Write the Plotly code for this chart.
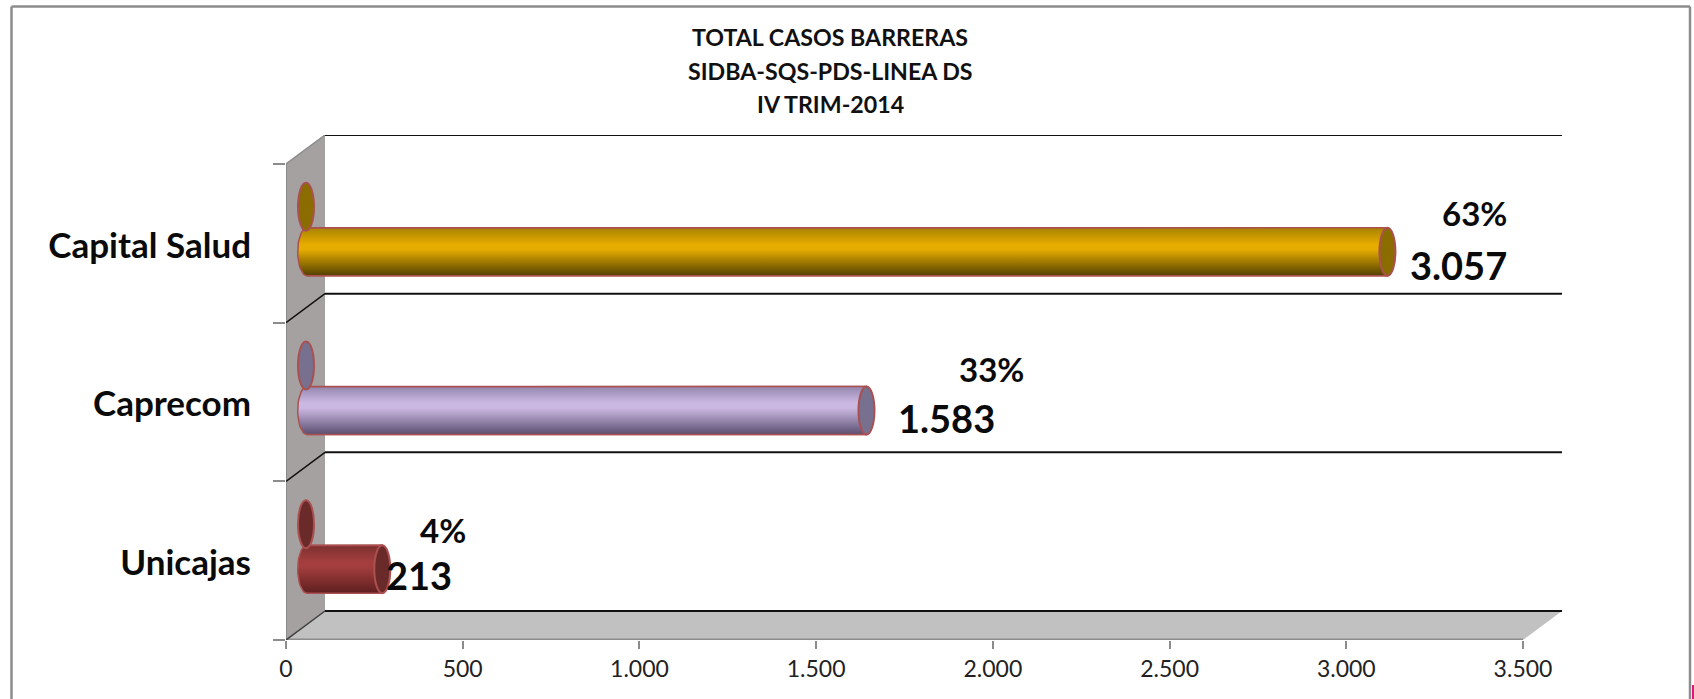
import numpy as np
import plotly.graph_objects as go

# --- data -------------------------------------------------------------
categories = ["Unicajas", "Caprecom", "Capital Salud"]
values = [213, 1583, 3057]
percents = ["4%", "33%", "63%"]
x_ticks = [0, 500, 1000, 1500, 2000, 2500, 3000, 3500]
title_lines = ["TOTAL CASOS BARRERAS", "SIDBA-SQS-PDS-LINEA DS", "IV TRIM-2014"]

# --- style ------------------------------------------------------------
W, H = 1694, 699
FONT = "Lato"
L, R, T, B = 286, 1565, 135, 640        # plot box in px
PX_X = (1523 - 286) / 3500              # px per x unit
PX_Y = (640 - 164) / 3                  # px per category
DX, DY = 39 / PX_X, 29 / PX_Y           # 3-D depth of the chart box
ZERO = 21 / PX_X                        # bars start inside the box depth
RX, RY = 8 / PX_X, 24 / PX_Y            # cylinder end radii
LEFT_RX = 9.3 / PX_X
GHOST_X = 20 / PX_X
BAR_SHIFT = -8.5 / PX_Y
GHOST_SHIFT = 36.5 / PX_Y
OUTLINE = "#ab5050"
ramps = [  # bottom, middle, top, end cap
    ("#5e1f1f", "#a43e3e", "#7c3030", "#6a2a2a"),
    ("#5a4e70", "#cbb8e2", "#9486ad", "#77708f"),
    ("#524000", "#e6ac00", "#a88200", "#8a6c00"),
]
label_shift = [  # value right edge, value y, percent right edge, percent y (px from value/category)
    (93, -14, 107, 31),
    (152, -16, 181, 33),
    (143, -22, 143, 30),
]

traces = []
shapes = []
annotations = []

x_max = 3500 * (R - L) / (1523 - 286)
y_min, y_max = -0.5, 2.5 + DY


def px(x):
    return (x - L) / (R - L)


def py(y):
    return 1 - (y - T) / (B - T)


def poly(pts):
    return "M" + "L".join(f"{x},{y}" for x, y in pts) + "Z"


def line(x0, y0, x1, y1, color, width):
    return dict(type="line", xref="x", yref="y", x0=x0, y0=y0, x1=x1, y1=y1,
                line=dict(color=color, width=width), layer="below")


# box: floor and left wall
shapes.append(dict(type="path", xref="x", yref="y", layer="below", line_width=0, fillcolor="#c1c1c1",
                   path=poly([(0, y_min), (3500, y_min), (3500 + DX, y_min + DY), (DX, y_min + DY)])))
shapes.append(dict(type="path", xref="x", yref="y", layer="below", line_width=0, fillcolor="#a5a1a1",
                   path=poly([(0, y_min), (0, 2.5), (DX, 2.5 + DY), (DX, y_min + DY)])))
shapes.append(line(0, y_min, 3500, y_min, "#8c8c8c", 3))
shapes.append(line(0, y_min, 0, 2.5, "#8c8c8c", 2))
shapes.append(line(0, 2.5, DX, 2.5 + DY, "#8c8c8c", 1.5))
shapes.append(line(0, y_min, DX, y_min + DY, "#404040", 1.5))
for b in [0.5, 1.5, 2.5, 3.5]:
    shapes.append(line(DX, b - 1 + DY, 3500 + DX, b - 1 + DY, "#111111", 2))
    if b < 2.5:
        shapes.append(line(0, b, DX, b + DY, "#111111", 1.5))

# bars
traces.append(go.Bar(y=list(range(len(values))), x=values, base=ZERO, orientation="h",
                     width=2 * RY, offset=BAR_SHIFT - RY,
                     marker=dict(color=[r[1] for r in ramps], line=dict(color=OUTLINE, width=1.5)),
                     showlegend=False, hoverinfo="x+y"))

for i, (v, ramp) in enumerate(zip(values, ramps)):
    yc = i + BAR_SHIFT
    t = np.linspace(np.pi / 2, 3 * np.pi / 2, 24)
    xs = [ZERO + v] + list(ZERO + LEFT_RX * np.cos(t)) + [ZERO + v, ZERO + v]
    ys = [yc + RY] + list(yc + RY * np.sin(t)) + [yc - RY, yc + RY]
    traces.append(go.Scatter(
        x=xs, y=ys, mode="lines", fill="toself", showlegend=False, hoverinfo="skip",
        line=dict(color=OUTLINE, width=1.5),
        fillgradient=dict(type="vertical", start=yc - RY, stop=yc + RY,
                          colorscale=[[0, ramp[0]], [0.55, ramp[1]], [0.66, ramp[1]], [1, ramp[2]]]),
    ))
    # end cap
    shapes.append(dict(type="circle", xref="x", yref="y", layer="above",
                       x0=ZERO + v - RX, x1=ZERO + v + RX, y0=yc - RY, y1=yc + RY,
                       fillcolor=ramp[3], line=dict(color=OUTLINE, width=2)))
    # ghost end on the wall
    gy = i + GHOST_SHIFT
    shapes.append(dict(type="circle", xref="x", yref="y", layer="above",
                       x0=GHOST_X - RX, x1=GHOST_X + RX, y0=gy - RY, y1=gy + RY,
                       fillcolor=ramp[3], line=dict(color=OUTLINE, width=2)))
    # labels
    vs, vy, ps, pys = label_shift[i]
    annotations.append(dict(x=v, y=i, xref="x", yref="y", xanchor="right", yanchor="middle", showarrow=False,
                            xshift=vs, yshift=vy, text=f"{v:,}".replace(",", "."),
                            font=dict(family=FONT, size=38, color="#0a0a0a", weight=700)))
    annotations.append(dict(x=v, y=i, xref="x", yref="y", xanchor="right", yanchor="middle", showarrow=False,
                            xshift=ps, yshift=pys, text=percents[i],
                            font=dict(family=FONT, size=33, color="#0a0a0a", weight=700)))

# figure border
for x0, y0, x1, y1 in [(11.5, 699, 11.5, 6.5), (11.5, 6.5, 1690, 6.5), (1690, 6.5, 1690, 699)]:
    shapes.append(dict(type="line", xref="paper", yref="paper", x0=px(x0), x1=px(x1),
                       y0=py(y0), y1=py(y1), line=dict(color="#8c8c8c", width=2.5)))
shapes.append(dict(type="rect", xref="paper", yref="paper", x0=px(1692), x1=px(W), y0=py(H), y1=py(685),
                   fillcolor="#d81b78", line_width=0))

for line_text, ly in zip(title_lines[1:], [71, 104]):
    annotations.append(dict(x=px(830), y=py(ly), xref="paper", yref="paper", xanchor="center",
                            yanchor="middle", showarrow=False, text=line_text,
                            font=dict(family=FONT, size=23.2, color="#111111", weight=700)))

fig = go.Figure(traces)
fig.update_layout(
    width=W, height=H, autosize=False,
    margin=dict(l=L, r=W - R, t=T, b=H - B, pad=0),
    paper_bgcolor="white", plot_bgcolor="rgba(0,0,0,0)",
    showlegend=False, separators=",.",
    title=dict(text=title_lines[0], x=830 / W, xanchor="center", xref="container",
               y=1 - 38 / H, yanchor="middle", yref="container",
               font=dict(family=FONT, size=23.2, color="#111111", weight=700)),
    xaxis=dict(range=[0, x_max], tickmode="array", tickvals=x_ticks,
               ticktext=[f"{v:,}".replace(",", ".") for v in x_ticks],
               ticks="outside", ticklen=8, tickwidth=2, tickcolor="#8c8c8c",
               showgrid=False, zeroline=False, showline=False,
               tickfont=dict(family=FONT, size=23, color="#222222")),
    yaxis=dict(range=[y_min, y_max], tickmode="array", tickvals=list(range(len(categories))),
               ticktext=categories, ticks="", ticklabelstandoff=34, ticklabelshift=2,
               minor=dict(ticks="outside", tickmode="array", tickvals=[-0.5, 0.5, 1.5, 2.5],
                          ticklen=12, tickwidth=2, tickcolor="#8c8c8c", showgrid=False),
               showgrid=False, zeroline=False, showline=False,
               tickfont=dict(family=FONT, size=35, color="#0a0a0a", weight=700)),
    annotations=annotations,
    shapes=shapes,
)
fig.write_html("out.html", config=dict(displayModeBar=False),
               post_script="document.body.style.margin='0';document.body.style.overflow='hidden';")
